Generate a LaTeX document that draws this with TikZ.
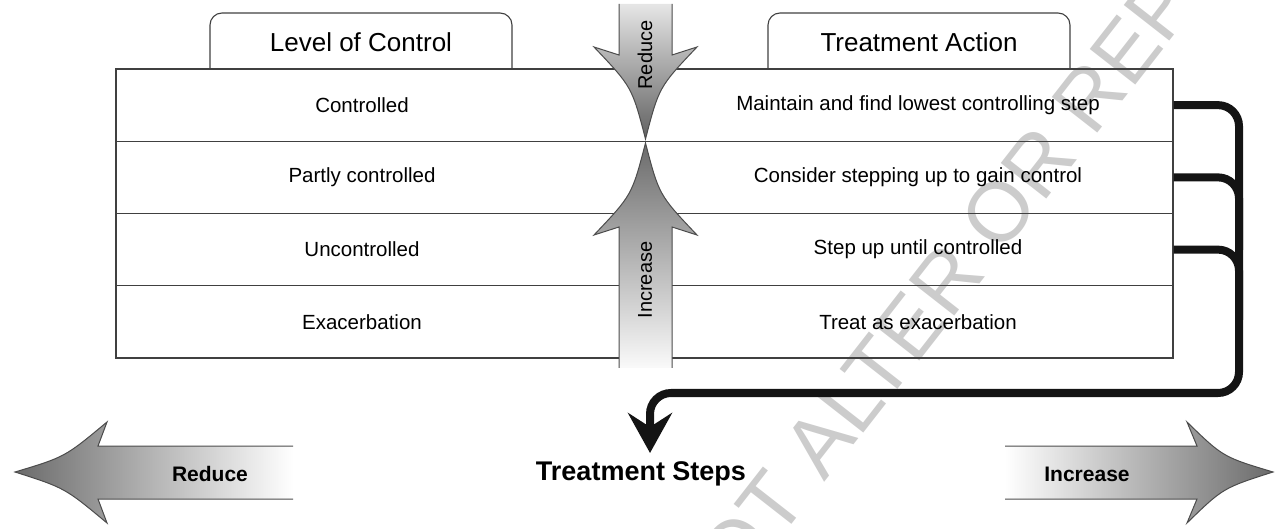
\documentclass[tikz,border=0pt]{standalone}
\usepackage{fontspec}
\setmainfont{Liberation Sans}
\usetikzlibrary{arrows.meta}
\begin{document}
\begin{tikzpicture}[x=1pt,y=-1pt,
  rowbox/.style={draw=black!75, line width=1.1pt, minimum width=1057pt, minimum height=72.25pt, inner sep=0pt},
  tabline/.style={draw=black!75, line width=1.1pt, rounded corners=12pt},
  body/.style={font=\fontsize{20.5}{24}\selectfont, inner sep=0pt},
  head/.style={font=\fontsize{26}{30}\selectfont, inner sep=0pt},
  vlab/.style={font=\fontsize{20}{24}\selectfont, inner sep=0pt, rotate=90},
  blab/.style={font=\bfseries\fontsize{21}{25}\selectfont, inner sep=0pt},
  steps/.style={font=\bfseries\fontsize{27}{31}\selectfont, inner sep=0pt},
  arrline/.style={draw=black!70, line width=1pt},
  flow/.style={line width=8pt, draw=black!92, rounded corners=21pt},
  watermark/.style={font=\fontsize{84}{90}\selectfont, text=black!20, inner sep=0pt}
]
\useasboundingbox (0,0) rectangle (1275,529);

% watermark
\node[watermark, rotate=52] (wm) at (994,219) {DO NOT ALTER OR REPRODUCE};

% table rows
\node[rowbox] (row1) at (644.5,105.125) {};
\node[rowbox] (row2) at (644.5,177.375) {};
\node[rowbox] (row3) at (644.5,249.625) {};
\node[rowbox] (row4) at (644.5,321.875) {};

% header tabs
\draw[tabline] (210,69) -- (210,13) -- (512,13) -- (512,69);
\draw[tabline] (768,69) -- (768,13) -- (1070,13) -- (1070,69);
\node[head] (hlev) at (361,42) {Level of Control};
\node[head] (htreat) at (919,42) {Treatment Action};

% central arrows
\shade[top color=black!10, bottom color=black!62]
  (619,4) -- (619,55) -- (594,47) .. controls (632,87) .. (645.5,139)
  .. controls (659,87) .. (697,47) -- (672,55) -- (672,4) -- cycle;
\draw[arrline] (619,4) -- (619,55) -- (594,47) .. controls (632,87) .. (645.5,139)
  .. controls (659,87) .. (697,47) -- (672,55) -- (672,4);
\shade[top color=black!58, bottom color=black!2]
  (619,368) -- (619,227) -- (594,235) .. controls (632,195) .. (645.5,143)
  .. controls (659,195) .. (697,235) -- (672,227) -- (672,368) -- cycle;
\draw[arrline] (619,368) -- (619,227) -- (594,235) .. controls (632,195) .. (645.5,143)
  .. controls (659,195) .. (697,235) -- (672,227) -- (672,368);
\node[vlab] (vred) at (645,55) {Reduce};
\node[vlab] (vinc) at (645,280) {Increase};

% row texts
\node[body] (l1) at (362,105.125) {Controlled};
\node[body] (l2) at (362,177.375) {Partly controlled};
\node[body] (l3) at (362,249.625) {Uncontrolled};
\node[body] (l4) at (362,321.875) {Exacerbation};
\node[body] (r1) at (918,105.125) {Maintain and find lowest controlling step};
\node[body] (r2) at (918,177.375) {Consider stepping up to gain control};
\node[body] (r3) at (918,249.625) {Step up until controlled};
\node[body] (r4) at (918,321.875) {Treat as exacerbation};

% connector
\coordinate (stepin) at (650,453);
\draw[flow, -{Stealth[length=40pt,width=44pt,inset=14pt]}] (row1.east) -| (1239,393) -| (stepin);
\draw[flow] (row2.east) -| (1239,250);
\draw[flow] (row3.east) -| (1239,320);

% bottom arrows
\shade[left color=black!58, right color=white]
  (293,446) -- (98,446) -- (107,422) .. controls (65,457) .. (15,472)
  .. controls (65,488) .. (107,523) -- (98,499) -- (293,499) -- cycle;
\draw[arrline] (293,446) -- (98,446) -- (107,422) .. controls (65,457) .. (15,472)
  .. controls (65,488) .. (107,523) -- (98,499) -- (293,499);
\shade[left color=white, right color=black!58]
  (1005,446) -- (1197,446) -- (1187,422) .. controls (1223,457) .. (1273,472)
  .. controls (1223,488) .. (1187,523) -- (1197,499) -- (1005,499) -- cycle;
\draw[arrline] (1005,446) -- (1197,446) -- (1187,422) .. controls (1223,457) .. (1273,472)
  .. controls (1223,488) .. (1187,523) -- (1197,499) -- (1005,499);

\node[blab] (bred) at (210,474) {Reduce};
\node[blab] (binc) at (1087,474) {Increase};
\node[steps] (steps) at (641,474) {Treatment Steps};
\end{tikzpicture}
\end{document}
